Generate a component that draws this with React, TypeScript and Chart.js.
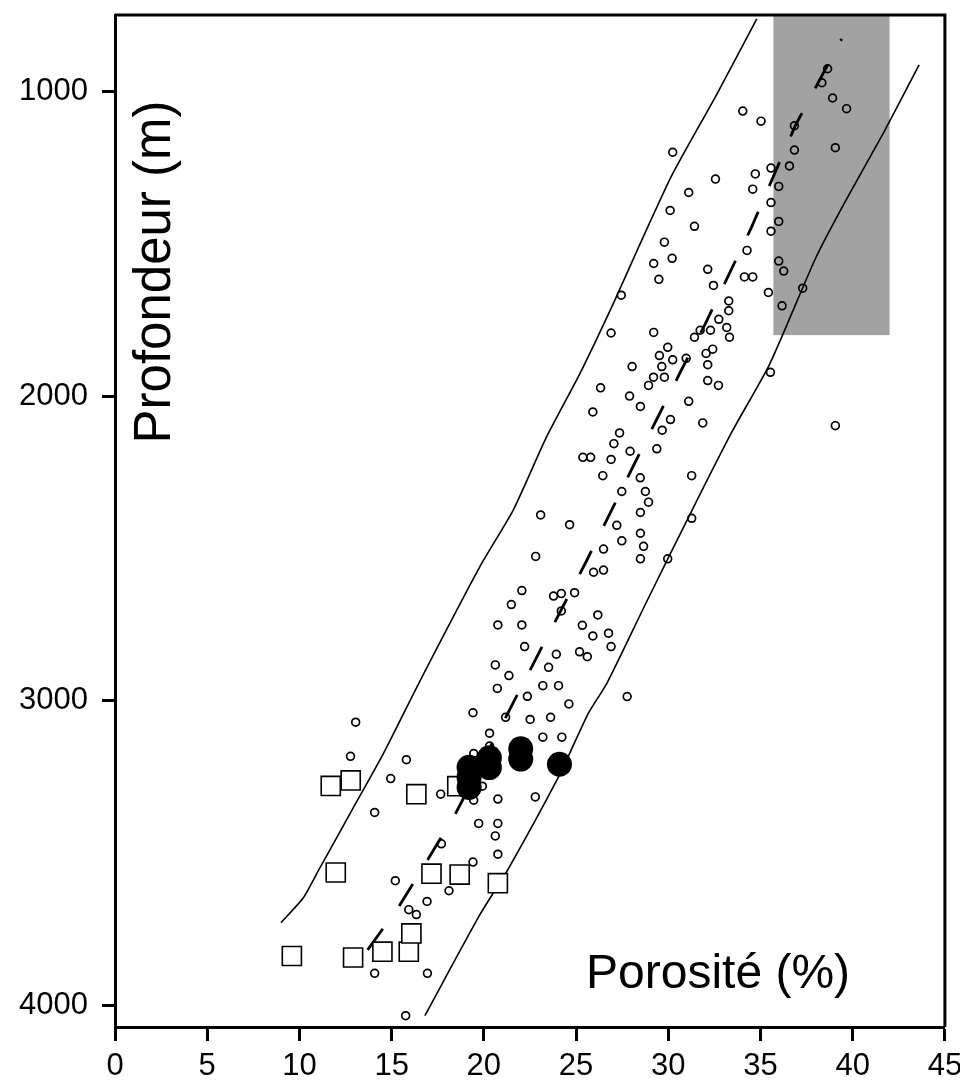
import React, { useEffect, useRef } from 'react';
import { Chart, registerables } from 'chart.js';

Chart.register(...registerables);

const FONT = '"Liberation Sans", Arial, Helvetica, sans-serif';

const xTicks = [0, 5, 10, 15, 20, 25, 30, 35, 40, 45];
const yTicks = [1000, 2000, 3000, 4000];
const xRange = [0, 45];
const yRange = [750, 4070];

const xTitle = 'Porosité (%)';
const yTitle = 'Profondeur (m)';

// shaded zone (porosity %, depth m)
const shadeX = [35.7, 42.0];
const shadeY = [750, 1800];

// small open circles (porosity %, depth m)
const smallCircles: [number, number][] = [
  [34.04, 1065], [35.03, 1098], [30.24, 1200], [32.56, 1288], [31.11, 1332], [30.1, 1391], [31.42, 1443],
  [29.79, 1495], [29.21, 1565], [30.21, 1548], [29.49, 1617], [32.14, 1584], [32.45, 1637], [33.28, 1688],
  [33.28, 1720], [32.74, 1748], [33.17, 1775], [33.32, 1807], [32.29, 1784], [31.73, 1784], [31.42, 1807],
  [29.21, 1791], [29.97, 1840], [29.52, 1867], [30.24, 1881], [30.97, 1876], [32.05, 1860], [32.41, 1846],
  [34.72, 1271], [34.58, 1321], [35.57, 1252], [35.57, 1365], [35.57, 1459], [34.27, 1522], [34.13, 1609],
  [34.58, 1609], [35.43, 1660],
  [38.64, 926], [38.33, 972], [38.91, 1022], [39.67, 1057], [36.84, 1113], [36.84, 1193], [36.57, 1245],
  [39.06, 1185], [35.99, 1312], [35.99, 1427], [35.99, 1557], [36.26, 1590], [37.29, 1646], [36.17, 1704],
  [39.06, 2097], [35.54, 1922], [27.45, 1669],
  [32.14, 1897], [29.65, 1903], [29.2, 1938], [29.79, 1938], [28.93, 1965], [28.04, 1903], [26.9, 1793],
  [32.14, 1949], [32.72, 1965], [31.11, 2017], [31.87, 2088], [26.33, 1973], [27.9, 2000], [28.49, 2034],
  [25.91, 2052], [30.12, 2077], [29.67, 2112], [29.38, 2173], [27.36, 2121], [27.05, 2156], [27.93, 2181],
  [25.37, 2201], [25.79, 2201], [26.9, 2208], [26.45, 2261], [28.48, 2268], [31.27, 2261], [27.48, 2313],
  [28.76, 2313], [28.93, 2348], [28.49, 2382], [31.27, 2401], [23.08, 2390], [24.65, 2422], [27.21, 2424],
  [27.48, 2475], [28.49, 2450], [28.66, 2493], [28.49, 2534], [26.49, 2502], [29.97, 2534], [22.81, 2526],
  [25.95, 2578], [26.49, 2571], [24.92, 2645], [23.78, 2656], [24.2, 2648], [22.06, 2638], [21.49, 2684],
  [20.76, 2751], [22.06, 2751], [24.2, 2705], [26.18, 2718], [25.34, 2752], [25.91, 2787], [26.76, 2778],
  [26.9, 2822], [22.21, 2822], [23.93, 2847], [25.19, 2839], [25.61, 2855], [23.51, 2890], [20.62, 2882],
  [21.36, 2917],
  [20.73, 2959], [23.2, 2950], [24.05, 2950], [22.36, 2985], [24.61, 3010], [19.41, 3039], [21.18, 3054],
  [22.51, 3061], [23.62, 3054], [20.31, 3106], [23.2, 3119], [24.23, 3119], [27.77, 2986], [20.31, 3148],
  [20.76, 3322], [22.79, 3315], [19.72, 3402], [20.76, 3402], [20.62, 3443], [20.76, 3503],
  [13.05, 3070], [12.77, 3182], [15.8, 3193], [14.95, 3255], [19.45, 3173], [17.66, 3306], [19.92, 3280],
  [19.45, 3326], [14.08, 3366], [17.7, 3469], [19.41, 3529], [15.2, 3590], [18.11, 3623], [16.92, 3658],
  [15.93, 3685], [16.34, 3701],
  [14.08, 3894], [16.94, 3894], [15.76, 4033],
];

// open squares
const squares: [number, number][] = [
  [11.7, 3279], [12.78, 3261], [16.34, 3306], [18.56, 3280], [11.97, 3563], [17.16, 3567], [18.69, 3570],
  [9.59, 3837], [12.91, 3842], [14.5, 3823], [15.93, 3823], [16.07, 3763], [20.76, 3598],
];

// large filled dots
const bigDots: [number, number][] = [
  [19.2, 3218], [19.2, 3251], [19.2, 3284], [20.3, 3187], [20.3, 3219], [22.0, 3157], [22.0, 3191], [24.1, 3208],
];

// dashed trend line
const trendLine: [number, number][] = [
  [13.7, 3817], [15.4, 3674], [16.9, 3527], [18.4, 3377], [21.1, 3064], [23.0, 2841], [25.6, 2537],
  [28.1, 2230], [30.7, 1916], [32.0, 1764], [34.5, 1448], [36.9, 1111], [39.4, 828],
];

// envelope lines
const envelopeLeft: [number, number][] = [
  [9.0, 3728], [10.2, 3647], [11.1, 3549], [12.0, 3451], [12.9, 3353], [14.5, 3179], [16.5, 2939],
  [19.8, 2558], [21.6, 2373], [23.4, 2134], [25.2, 1927], [27.0, 1699], [28.4, 1510], [30.2, 1275],
  [32.6, 1013], [34.8, 762],
];
const envelopeRight: [number, number][] = [
  [16.8, 4033], [19.8, 3700], [21.3, 3554], [24.1, 3244], [25.1, 3113], [25.7, 3037], [26.7, 2939],
  [28.8, 2678], [31.3, 2373], [33.5, 2112], [35.5, 1895], [38.0, 1546], [39.6, 1361], [41.7, 1133],
  [43.6, 913],
];

const pts = (arr: [number, number][]) => arr.map(([x, y]) => ({ x, y }));

const decorPlugin = {
  id: 'decor',
  beforeDatasetsDraw(chart: any) {
    const { ctx, scales } = chart;
    const xs = scales.x;
    const ys = scales.y;
    const x0 = xs.getPixelForValue(shadeX[0]);
    const x1 = xs.getPixelForValue(shadeX[1]);
    const y0 = ys.getPixelForValue(shadeY[0]);
    const y1 = ys.getPixelForValue(shadeY[1]);
    ctx.save();
    ctx.fillStyle = '#a2a2a2';
    ctx.fillRect(Math.min(x0, x1), Math.min(y0, y1), Math.abs(x1 - x0), Math.abs(y1 - y0));
    ctx.restore();
  },
  afterDraw(chart: any) {
    const { ctx, chartArea: a } = chart;
    ctx.save();
    ctx.strokeStyle = '#000';
    ctx.lineWidth = 3;
    ctx.beginPath();
    ctx.moveTo(a.left, a.top);
    ctx.lineTo(a.right, a.top);
    ctx.lineTo(a.right, a.bottom);
    ctx.stroke();

    ctx.fillStyle = '#000';
    ctx.font = `48px ${FONT}`;
    ctx.textAlign = 'left';
    ctx.textBaseline = 'alphabetic';
    ctx.fillText(xTitle, 586, 988);

    ctx.translate(170, 272);
    ctx.rotate(-Math.PI / 2);
    ctx.font = `51px ${FONT}`;
    ctx.textAlign = 'center';
    ctx.fillText(yTitle, 0, 0);
    ctx.restore();
  },
};

export default function App() {
  const ref = useRef<HTMLCanvasElement | null>(null);

  useEffect(() => {
    if (!ref.current) return;
    const chart = new Chart(ref.current, {
      type: 'scatter',
      data: {
        datasets: [
          {
            label: 'big',
            data: pts(bigDots),
            pointRadius: 12.5,
            pointBackgroundColor: '#000',
            pointBorderColor: '#000',
            pointBorderWidth: 0,
            order: 0,
          },
          {
            label: 'squares',
            data: pts(squares),
            pointStyle: 'rect',
            pointRadius: 13.5,
            pointBackgroundColor: '#fff',
            pointBorderColor: '#000',
            pointBorderWidth: 1.6,
            order: 1,
          },
          {
            label: 'circles',
            data: pts(smallCircles),
            pointRadius: 3.9,
            pointBackgroundColor: 'rgba(0,0,0,0)',
            pointBorderColor: '#000',
            pointBorderWidth: 1.7,
            order: 2,
          },
          {
            label: 'trend',
            data: pts(trendLine),
            showLine: true,
            pointRadius: 0,
            borderColor: '#000',
            borderWidth: 2.8,
            borderDash: [26, 28],
            tension: 0,
            order: 3,
          },
          {
            label: 'envL',
            data: pts(envelopeLeft),
            showLine: true,
            pointRadius: 0,
            borderColor: '#000',
            borderWidth: 1.6,
            tension: 0.2,
            order: 4,
          },
          {
            label: 'envR',
            data: pts(envelopeRight),
            showLine: true,
            pointRadius: 0,
            borderColor: '#000',
            borderWidth: 1.6,
            tension: 0.2,
            order: 4,
          },
        ],
      } as any,
      options: {
        animation: false,
        responsive: false,
        events: [],
        layout: { padding: { top: 9, right: 15, bottom: 0, left: 0 } },
        plugins: { legend: { display: false }, tooltip: { enabled: false } },
        scales: {
          x: {
            type: 'linear',
            position: 'bottom',
            min: xRange[0],
            max: xRange[1],
            afterBuildTicks: (s: any) => {
              s.ticks = xTicks.map((v) => ({ value: v }));
            },
            afterFit: (s: any) => {
              s.height = 57;
              s.paddingLeft = 0;
              s.paddingRight = 0;
            },
            grid: { drawOnChartArea: false, drawTicks: true, tickLength: 14, tickWidth: 3, tickColor: '#000' },
            border: { display: true, color: '#000', width: 3 },
            ticks: {
              color: '#000',
              font: { family: FONT, size: 31 },
              padding: 7,
              maxRotation: 0,
              autoSkip: false,
              callback: (v: any) => String(v),
            },
          },
          y: {
            type: 'linear',
            reverse: true,
            min: yRange[0],
            max: yRange[1],
            afterBuildTicks: (s: any) => {
              s.ticks = yTicks.map((v) => ({ value: v }));
            },
            afterFit: (s: any) => {
              s.width = 115;
              s.paddingTop = 0;
              s.paddingBottom = 0;
            },
            grid: { drawOnChartArea: false, drawTicks: true, tickLength: 13, tickWidth: 3, tickColor: '#000' },
            border: { display: true, color: '#000', width: 3 },
            ticks: {
              color: '#000',
              font: { family: FONT, size: 31 },
              padding: 14,
              autoSkip: false,
              callback: (v: any) => String(v),
            },
          },
        },
      } as any,
      plugins: [decorPlugin],
    });
    return () => chart.destroy();
  }, []);

  return (
    <div style={{ position: 'absolute', left: 0, top: 0, width: 960, height: 1084, background: '#fff' }}>
      <canvas ref={ref} width={960} height={1084} style={{ display: 'block', width: 960, height: 1084 }} />
    </div>
  );
}
